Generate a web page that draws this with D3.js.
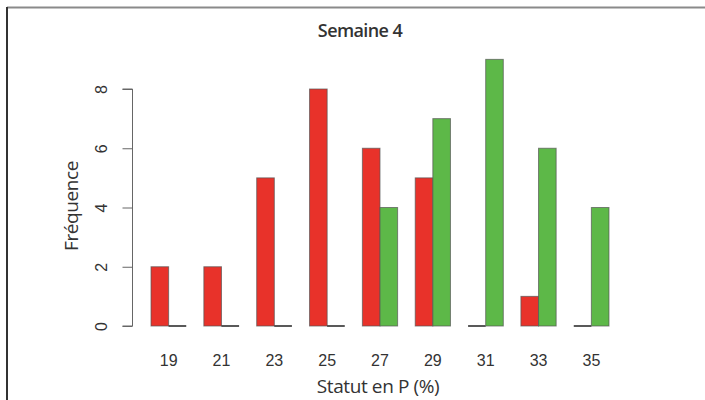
<!DOCTYPE html>
<html>
<head>
<meta charset="utf-8">
<script src="https://cdn.jsdelivr.net/npm/d3@7"></script>
<style>
html,body{margin:0;padding:0;background:#fff;}
svg{display:block;}
</style>
</head>
<body>
<script>
const categories = ["19","21","23","25","27","29","31","33","35"];
const seriesNames = ["rouge","vert"];
const redValues = [2,2,5,8,6,5,0,1,0];
const greenValues = [0,0,0,0,4,7,9,6,4];
const yTicks = [0,2,4,6,8];
const colors = ["#e8322a","#5db848"];

const W = 705, H = 400;
const svg = d3.select("body").append("svg").attr("width", W).attr("height", H);

// frame
svg.append("line").attr("x1", 7).attr("x2", W).attr("y1", 7.5).attr("y2", 7.5)
  .attr("stroke", "#8a8a8a").attr("stroke-width", 2);
svg.append("line").attr("x1", 7).attr("x2", 7).attr("y1", 7).attr("y2", H)
  .attr("stroke", "#333").attr("stroke-width", 2);

const y = d3.scaleLinear().domain([0, 8]).range([326, 89]);
const x = d3.scaleBand().domain(categories).range([133.4, 626.6]).paddingInner(1/3).paddingOuter(1/3);
const xs = d3.scaleBand().domain(seriesNames).range([0, x.bandwidth()]);

const data = categories.map((c, i) => ({cat: c, vals: [redValues[i], greenValues[i]]}));

const g = svg.append("g");
const groups = g.selectAll("g.grp").data(data).enter().append("g")
  .attr("transform", d => `translate(${x(d.cat)},0)`);
const items = groups.selectAll("g.bar").data(d => d.vals.map((v, k) => ({v, k}))).enter().append("g");
items.filter(d => d.v > 0).append("rect")
  .attr("x", d => xs(seriesNames[d.k]))
  .attr("width", xs.bandwidth())
  .attr("y", d => y(d.v))
  .attr("height", d => y(0) - y(d.v))
  .attr("fill", d => colors[d.k])
  .attr("stroke", "#555")
  .attr("stroke-opacity", 0.7)
  .attr("stroke-width", 1);
items.filter(d => d.v === 0).append("line")
  .attr("x1", d => xs(seriesNames[d.k]))
  .attr("x2", d => xs(seriesNames[d.k]) + xs.bandwidth())
  .attr("y1", y(0)).attr("y2", y(0))
  .attr("stroke", "#222").attr("stroke-width", 1.5);

// y axis
const yAxis = d3.axisLeft(y).tickValues(yTicks).tickSize(10).tickPadding(0).tickFormat(d3.format("d"));
const ya = svg.append("g").attr("transform", "translate(132.5,0)").call(yAxis);
ya.select(".domain").attr("stroke", "#666").attr("d", `M-10,${y(8)}H0V${y(0)}H-10`);
ya.selectAll(".tick line").attr("stroke", "#666");
ya.selectAll(".tick text")
  .attr("x", 0).attr("dy", null)
  .attr("transform", "translate(-31,0) rotate(-90)")
  .attr("text-anchor", "middle")
  .attr("dominant-baseline", "central")
  .style("font-family", "Liberation Sans, Arial, sans-serif")
  .style("font-size", "16px")
  .attr("fill", "#333");

// x labels (no axis line, as in R barplot)
const xa = svg.append("g").attr("transform", "translate(0,326)")
  .call(d3.axisBottom(x).tickSize(0).tickPadding(0));
xa.select(".domain").remove();
xa.selectAll(".tick text")
  .attr("y", 34).attr("dy", null)
  .attr("dominant-baseline", "central")
  .style("font-family", "Liberation Sans, Arial, sans-serif")
  .style("font-size", "16px")
  .attr("fill", "#333");

// title
svg.append("text").attr("x", 360).attr("y", 30).attr("text-anchor", "middle")
  .attr("dominant-baseline", "central")
  .style("font-family", "Open Sans, sans-serif").style("font-weight", 600)
  .style("font-size", "18px").style("letter-spacing", "-0.6px")
  .attr("fill", "#333").text("Semaine 4");

// axis titles
svg.append("text").attr("x", 378).attr("y", 386).attr("text-anchor", "middle")
  .attr("dominant-baseline", "central")
  .style("font-family", "Open Sans, sans-serif")
  .style("font-size", "19px").style("letter-spacing", "-0.4px")
  .attr("fill", "#333").text("Statut en P (%)");

svg.append("text").attr("transform", "translate(71,206) rotate(-90)").attr("text-anchor", "middle")
  .attr("dominant-baseline", "central")
  .style("font-family", "Open Sans, sans-serif")
  .style("font-size", "19px").style("letter-spacing", "-0.4px")
  .attr("fill", "#333").text("Fréquence");
</script>
</body>
</html>
